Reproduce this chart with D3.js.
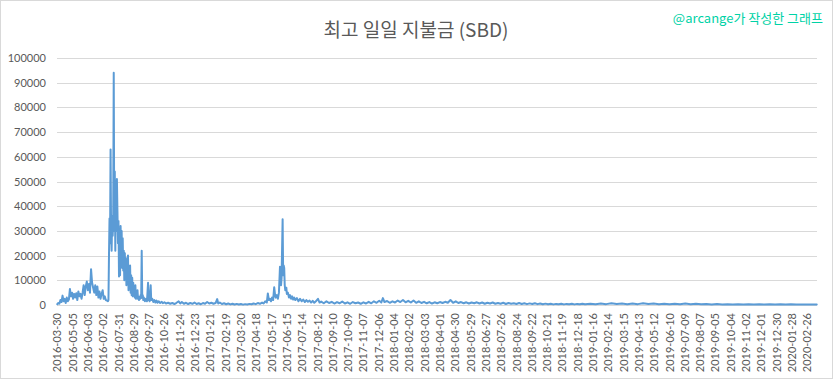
<!DOCTYPE html>
<html><head><meta charset="utf-8">
<script src="https://cdn.jsdelivr.net/npm/d3@7"></script>
<style>html,body{margin:0;padding:0;background:#fff;} svg{display:block;}</style>
</head><body>
<script>
const chartTitle = "최고 일일 지불금 (SBD)";
const creditText = "@arcange가 작성한 그래프";
const tickLabels = ["2016-03-30","2016-05-05","2016-06-03","2016-07-02","2016-07-31","2016-08-29","2016-09-27","2016-10-26","2016-11-24","2016-12-23",
"2017-01-21","2017-02-19","2017-03-20","2017-04-18","2017-05-17","2017-06-15","2017-07-14","2017-08-12","2017-09-10","2017-10-09","2017-11-07","2017-12-06",
"2018-01-04","2018-02-02","2018-03-03","2018-04-01","2018-04-30","2018-05-29","2018-06-27","2018-07-26","2018-08-24","2018-09-22","2018-10-21","2018-11-19","2018-12-18",
"2019-01-16","2019-02-14","2019-03-15","2019-04-13","2019-05-12","2019-06-10","2019-07-09","2019-08-07","2019-09-05","2019-10-04","2019-11-02","2019-12-01","2019-12-30",
"2020-01-28","2020-02-26"];
const tickStep = 29;
const nDays = 1440;
const yTicks = [0,10000,20000,30000,40000,50000,60000,70000,80000,90000,100000];

// category index (day) and max daily payout (SBD)
const dayIdx = [0,2,4,6,8,10,12,14,16,18,20,22,24,26,28,30,32,34,36,38,40,42,44,46,48,50,52,54,56,58,60,62,64,66,68,70,72,74,76,78,80,82,84,86,88,90,92,94,96,97,
98,99,100,101,102,103,104,105,106,107,108,109,110,111,112,113,114,115,116,117,118,119,120,121,122,123,124,125,126,127,128,129,130,131,132,133,134,135,136,137,138,139,140,141,142,143,144,145,146,147,148,149,150,151,152,153,154,155,156,157,158,159,160,161,162,163,164,166,168,170,172,173,174,175,177,178,180,182,184,186,188,190,192,195,198,200,203,206,210,214,218,
222,226,230,233,236,240,244,248,252,256,260,264,268,272,276,280,284,288,292,296,300,303,305,308,312,316,320,324,328,332,336,340,344,348,352,356,360,364,368,372,376,380,384,388,391,
394,397,399,401,403,405,407,409,411,413,414,416,418,420,422,424,425,427,428,429,430,431,432,434,435,437,439,441,443,445,447,449,451,454,457,460,463,466,469,472,475,478,481,484,487,490,494,497,500,
505,510,515,520,525,530,535,540,545,550,555,560,565,570,575,580,585,590,595,600,605,610,614,617,620,625,630,635,640,645,650,655,660,665,670,675,680,685,690,695,700,705,710,715,720,725,730,735,740,745,750,755,760,765,770,775,780,785,790,795,800,805,810,815,820,825,830,835,840,845,850,855,860,865,870,875,880,885,890,895,900,905,910,915,920,925,930,935,940,945,950,955,960,965,970,975,980,985,990,995,
1000,1010,1020,1030,1040,1050,1060,1070,1080,1090,1100,1110,1120,1130,1140,1150,1160,1170,1180,1190,1200,1210,1220,1230,1240,1250,1260,1270,1280,1290,1300,1310,1320,1330,1340,1350,1360,1370,1380,1390,1400,1410,1420,1430,1439];
const payout = [300,800,500,2000,1200,3800,1500,2500,800,3000,1500,2200,6500,3500,5000,2500,4500,3000,4800,2000,5500,3500,4500,2500,5000,8000,4000,7500,9500,6000,8500,5000,14500,9000,7000,5000,8000,4000,7500,3000,5500,2500,4500,6000,2500,3500,2000,1800,1500,2000,
20000,35000,25000,63000,30000,22000,36000,28000,35000,94000,30000,54000,22000,50000,30000,51000,38000,25000,34000,11500,20000,12000,32000,20000,30000,15000,27000,14000,22000,10000,21000,12000,19000,8000,18000,9000,20000,6000,14000,7000,16000,5000,12000,4000,11000,3500,9000,4000,7000,3000,8000,2500,5000,3000,6000,2500,3500,2000,3000,2500,4000,2800,22000,3000,4000,2000,3000,1500,2500,1500,9000,2000,3000,1500,8000,2000,2500,1200,2000,1000,1800,900,1500,800,1300,700,1100,600,900,500,800,
400,900,1500,600,1200,500,900,400,800,500,1000,400,700,300,800,500,1200,600,900,500,800,2400,600,1000,400,700,300,600,250,500,200,450,200,400,150,350,200,450,300,600,350,800,500,1000,600,
1500,1000,4700,2000,2500,1500,3000,2000,7200,3500,3000,4000,2500,5000,15500,8000,11000,34700,12000,16000,15000,8000,6000,7000,4500,5000,3000,4000,2500,3500,2200,3000,2000,2800,1500,2500,1500,2200,1200,2000,1300,1800,1000,1700,900,1500,2500,1000,1400,
700,1500,800,1300,600,1200,700,1400,600,1100,500,1200,700,1000,500,1100,600,1300,700,1500,900,1700,1000,2800,1200,1600,900,1500,1000,1800,1200,2000,1100,1700,1000,1800,900,1500,800,1300,700,1200,600,1100,700,1200,800,1300,900,2000,900,1500,800,1200,700,1100,600,1000,700,1100,600,1000,500,900,600,1000,500,800,500,900,400,800,500,700,400,800,400,700,350,650,400,700,350,600,300,550,300,500,250,450,300,500,250,450,300,500,250,450,300,500,
300,500,300,600,350,700,400,650,350,600,350,700,400,600,350,500,300,500,300,600,350,500,300,450,250,400,250,350,250,350,220,320,220,300,200,300,200,280,200,260,200,250,200,230,200];

const W = 833, H = 379;
const M = {left:57, right:817, top:58, bottom:305};

const svg = d3.select("body").append("svg").attr("width",W).attr("height",H)
  .style("font-family","Lato, 'Noto Sans', sans-serif");

svg.append("rect").attr("x",0.5).attr("y",0.5).attr("width",W-1).attr("height",H-1)
  .attr("fill","#fff").attr("stroke","#D9D9D9");

const x = d3.scaleBand().domain(d3.range(nDays)).range([M.left, M.right]);
const bw = x.bandwidth();
const y = d3.scaleLinear().domain([0,100000]).range([M.bottom, M.top]);

// gridlines
svg.append("g").selectAll("line").data(yTicks).join("line")
  .attr("x1",M.left).attr("x2",M.right)
  .attr("y1",d=>Math.round(y(d))+0.5).attr("y2",d=>Math.round(y(d))+0.5)
  .attr("stroke","#D9D9D9").attr("stroke-width",1);

// y axis
const yAxis = svg.append("g").attr("transform",`translate(${M.left},0)`)
  .call(d3.axisLeft(y).tickValues(yTicks).tickSize(0).tickPadding(11).tickFormat(d3.format("d")));
yAxis.select(".domain").remove();
yAxis.selectAll("text").attr("fill","#595959").style("font-size","11px").style("font-family","Lato, sans-serif");

// x axis
const tickIdx = tickLabels.map((_,k)=>k*tickStep);
const xAxis = svg.append("g").attr("transform",`translate(0,${M.bottom})`)
  .call(d3.axisBottom(x).tickValues(tickIdx).tickSize(0).tickFormat(d=>tickLabels[d/tickStep]));
xAxis.select(".domain").remove();
xAxis.selectAll("text")
  .attr("transform","rotate(-90)")
  .attr("x",-8).attr("y",0).attr("dy","0.35em")
  .style("text-anchor","end")
  .attr("fill","#595959").style("font-size","11px").style("font-family","Lato, sans-serif");

// line
const pts = dayIdx.map((d,k)=>({i:d, v:payout[k]}));
svg.append("path").datum(pts)
  .attr("fill","none").attr("stroke","#5B9BD5").attr("stroke-width",2)
  .attr("stroke-linejoin","round").attr("stroke-linecap","round")
  .attr("d", d3.line().x(d=>x(d.i)+bw/2).y(d=>y(d.v)));

// title
svg.append("text").attr("x",416).attr("y",37).attr("text-anchor","middle")
  .style("font-family","'Noto Sans CJK KR', sans-serif").style("font-size","19px")
  .attr("fill","#595959").text(chartTitle);

svg.append("text").attr("x",823).attr("y",23).attr("text-anchor","end")
  .style("font-family","'Noto Sans CJK KR', sans-serif").style("font-size","13px")
  .attr("fill","#00D2A6").text(creditText);
</script>
</body></html>
